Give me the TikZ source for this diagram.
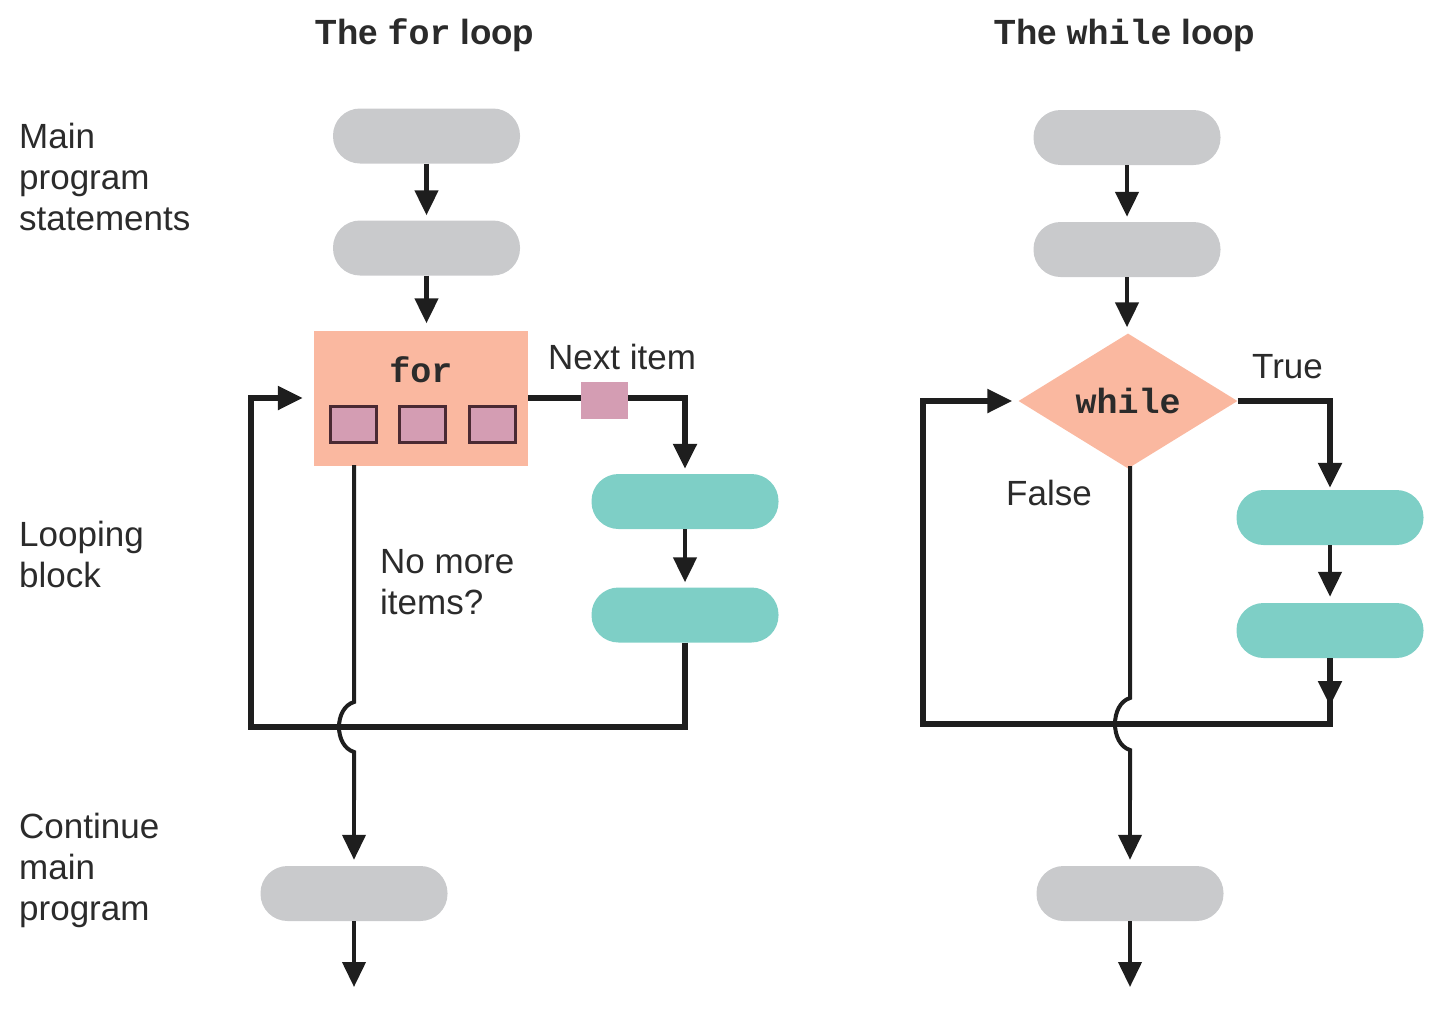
\documentclass[tikz,border=0pt]{standalone}
\usepackage{fontspec}
\setmainfont{Liberation Sans}
\setmonofont{Liberation Mono}
\usetikzlibrary{arrows.meta,shapes.geometric}
\definecolor{pillgray}{HTML}{C9CACC}
\definecolor{pillteal}{HTML}{7ECFC6}
\definecolor{salmon}{HTML}{FAB8A0}
\definecolor{mauve}{HTML}{D49DB3}
\definecolor{mauveedge}{HTML}{4A2A33}
\definecolor{txt}{HTML}{2B2B2B}
\definecolor{ln}{HTML}{1E1E1E}
\tikzset{
  pill/.style={rectangle, rounded corners=27pt, minimum width=187pt, minimum height=55pt, inner sep=0pt},
  graypill/.style={pill, fill=pillgray},
  tealpill/.style={pill, fill=pillteal},
  lbl/.style={text=txt, font=\fontsize{35}{41}\selectfont, inner sep=0pt, align=left},
  ttl/.style={text=txt, font=\fontsize{35}{41}\selectfont\bfseries, inner sep=0pt},
  tip/.style={-{Triangle[length=25pt,width=23pt]}},
  stemarrow/.style={draw=ln, line width=4.5pt, tip, shorten >=5pt},
  loopline/.style={draw=ln, line width=5.5pt},
  exitline/.style={draw=ln, line width=4pt},
  itemsq/.style={rectangle, fill=mauve, draw=mauveedge, line width=3pt, minimum width=46pt, minimum height=36pt, inner sep=0pt},
}
\begin{document}
\begin{tikzpicture}[x=1pt,y=-1pt]
\useasboundingbox (0,0) rectangle (1446,1028);

% titles
\node[ttl, anchor=base] (t_for) at (425,44) {The \texttt{for} loop};
\node[ttl, anchor=base] (t_while) at (1125,44) {The \texttt{while} loop};

% side labels
\node[lbl, anchor=north west] (l_main) at (19,123) {Main\\program\\statements};
\node[lbl, anchor=north west] (l_loop) at (19,521) {Looping\\block};
\node[lbl, anchor=north west] (l_cont) at (19,813) {Continue\\main\\program};

% ---------------- for loop ----------------
\node[graypill] (f1) at (426.5,136) {};
\node[graypill] (f2) at (426.5,248) {};
\node[rectangle, fill=salmon, minimum width=214pt, minimum height=135pt, inner sep=0pt] (forbox) at (421,398) {};
\node[text=txt, font=\fontsize{35}{41}\selectfont\ttfamily\bfseries, anchor=base, inner sep=0pt] (fortext) at (421,382) {for};
\node[itemsq] (sq1) at (353,424) {};
\node[itemsq] (sq2) at (422,424) {};
\node[itemsq] (sq3) at (492,424) {};
\node[tealpill] (f3) at (685,501.5) {};
\node[tealpill] (f4) at (685,615) {};
\node[graypill] (f5) at (354,893.5) {};
\coordinate (fs) at (354,465);
\coordinate (fend) at (354,987);

\draw[stemarrow] (f1.south) -- (f2.north);
\draw[stemarrow, shorten >=7pt] (f2.south) -- (forbox.north -| f2.south);
\draw[loopline, tip, shorten >=5pt] (forbox.east) -| (f3.north);
\node[rectangle, fill=mauve, minimum width=47pt, minimum height=37pt, inner sep=0pt] (nextsq) at (604,400) {};
\node[lbl, anchor=base west] (l_next) at (548,369) {Next item};
\draw[stemarrow, shorten >=5pt] (f3.south) -- (f4.north);
\draw[loopline, tip, shorten >=11pt] (f4.south) |- (251,727) |- (forbox.west);
\draw[exitline] (fs) -- (354,702) .. controls (334,708) and (334,746) .. (354,752) -- (354,800);
\draw[stemarrow, line width=4pt, shorten >=6pt] (354,798) -- (f5.north);
\draw[stemarrow, line width=4pt, shorten >=0pt] (f5.south) -- (fend);
\node[lbl, anchor=north west] (l_nomore) at (380,549) {No more\\items?};

% ---------------- while loop ----------------
\node[graypill] (w1) at (1127,137.5) {};
\node[graypill] (w2) at (1127,249.5) {};
\node[diamond, fill=salmon, minimum width=219pt, minimum height=135pt, aspect=1.62, inner sep=0pt,
      text=txt, font=\fontsize{35}{41}\selectfont\ttfamily\bfseries] (wd) at (1128,401) {while};
\node[tealpill] (w3) at (1330,517.5) {};
\node[tealpill] (w4) at (1330,630.5) {};
\node[graypill] (w5) at (1130,893.5) {};
\coordinate (ws) at (1130,466);
\coordinate (wend) at (1130,987);
\coordinate (wmid) at (1330,706);

\draw[stemarrow] (w1.south) -- (w2.north);
\draw[stemarrow, shorten >=6pt] (w2.south) -- (wd.north -| w2.south);
\draw[loopline, tip, shorten >=2pt] (wd.east) -| (w3.north);
\draw[stemarrow, shorten >=6pt] (w3.south) -- (w4.north);
\draw[loopline, tip, shorten >=6pt] (w4.south) |- (923,724) |- (wd.west);
\draw[loopline, tip] (w4.south) -- (wmid);
\draw[exitline] (ws) -- (1130,698) .. controls (1110,704) and (1110,744) .. (1130,750) -- (1130,800);
\draw[stemarrow, line width=4pt, shorten >=6pt] (1130,798) -- (w5.north);
\draw[stemarrow, line width=4pt, shorten >=0pt] (w5.south) -- (wend);
\node[lbl, anchor=base west] (l_true) at (1252,378) {True};
\node[lbl, anchor=base west] (l_false) at (1006,505) {False};
\end{tikzpicture}
\end{document}
